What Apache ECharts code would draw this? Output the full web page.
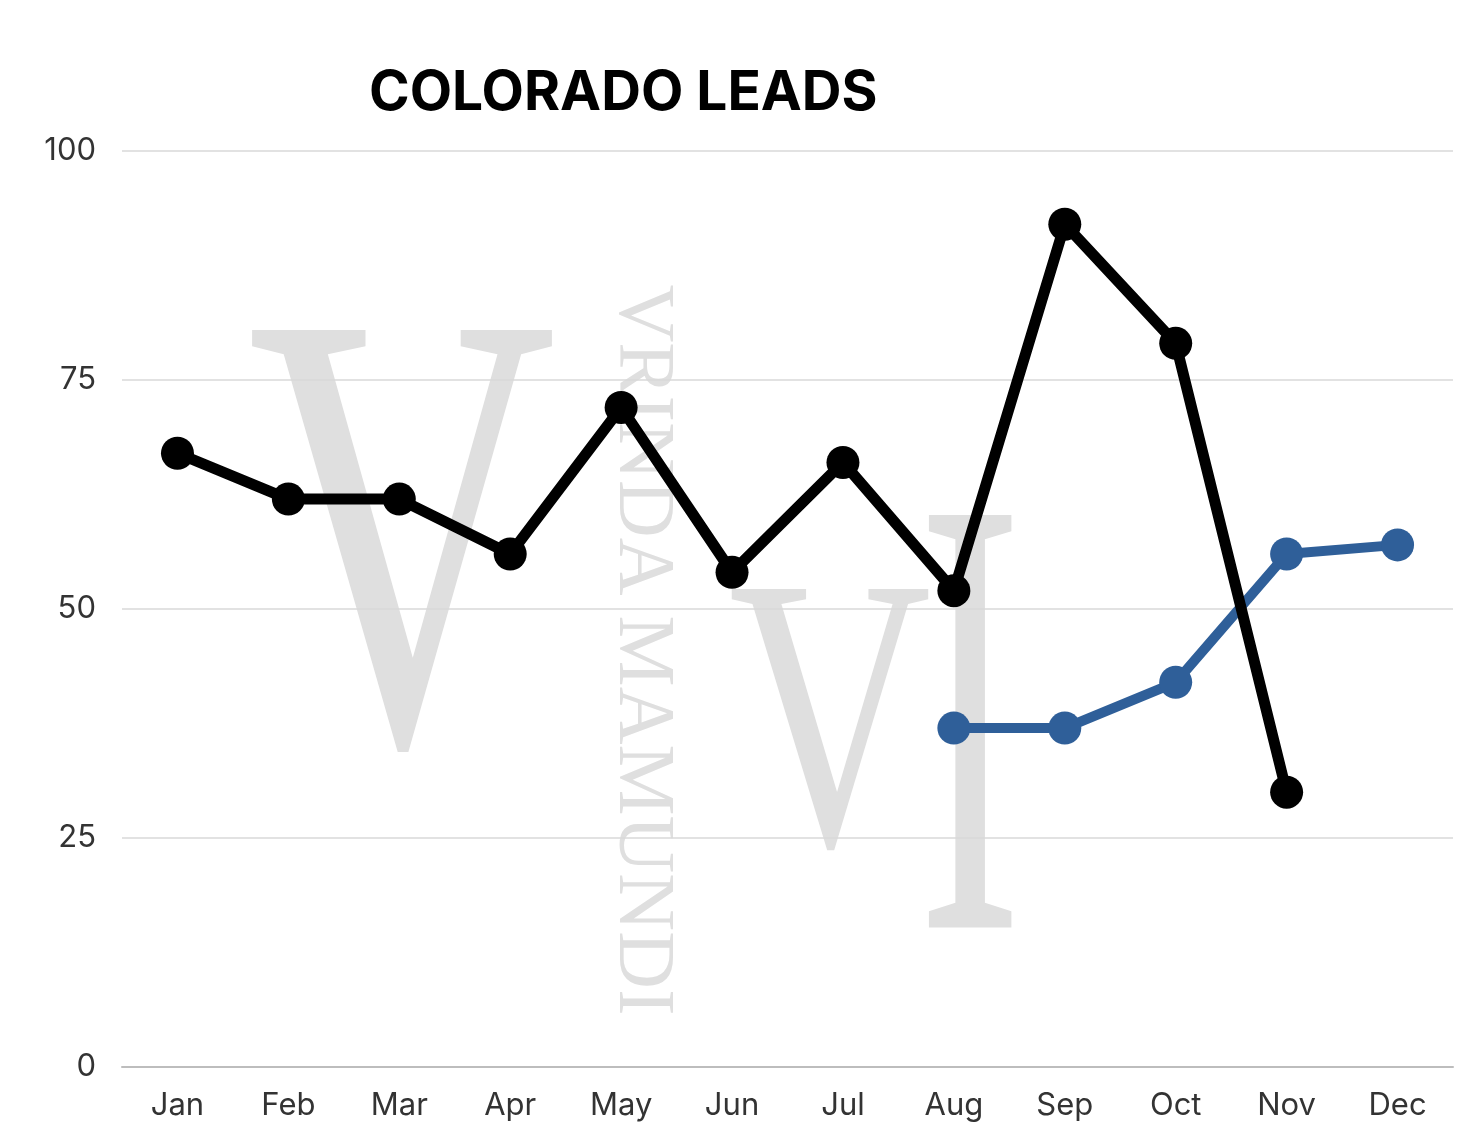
<!DOCTYPE html>
<html>
<head>
<meta charset="utf-8">
<script src="https://cdn.jsdelivr.net/npm/echarts@6/dist/echarts.min.js"></script>
<style>
html,body{margin:0;padding:0;background:#fff;}
#chart{width:1482px;height:1144px;}
</style>
</head>
<body>
<div id="chart"></div>
<script>
var categories = ['Jan','Feb','Mar','Apr','May','Jun','Jul','Aug','Sep','Oct','Nov','Dec'];
var blackSeries = [67, 62, 62, 56, 72, 54, 66, 52, 92, 79, 30, null];
var blueSeries = [null, null, null, null, null, null, null, 37, 37, 42, 56, 57];
var yTicks = [0, 25, 50, 75, 100];
var titleText = 'COLORADO LEADS';
var watermarkName = 'VRINDA MAMUNDI';

var chart = echarts.init(document.getElementById('chart'));
var wmColor = '#dfdfdf';
chart.setOption({
  backgroundColor: '#ffffff',
  animation: false,
  title: {
    text: titleText,
    left: 364,
    top: 61,
    textStyle: {fontFamily: 'Inter', fontWeight: 700, fontSize: 55, color: '#000'}
  },
  grid: {left: 122, right: 29, top: 151, bottom: 77, containLabel: false},
  graphic: [
    {type: 'text', z: -10, x: 402, y: 577, scaleX: 0.68,
      style: {text: 'V', fontFamily: 'Liberation Serif', fontSize: 630, fill: wmColor, align: 'center', verticalAlign: 'middle'}},
    {type: 'text', z: -10, x: 830, y: 742, scaleX: 0.72,
      style: {text: 'V', fontFamily: 'Liberation Serif', fontSize: 390, fill: wmColor, align: 'center', verticalAlign: 'middle'}},
    {type: 'text', z: -10, x: 970, y: 762, scaleX: 0.5,
      style: {text: 'I', fontFamily: 'Liberation Serif', fontSize: 630, fill: wmColor, align: 'center', verticalAlign: 'middle'}},
    {type: 'text', z: -10, x: 641, y: 650, rotation: -Math.PI / 2,
      style: {text: watermarkName, fontFamily: 'Liberation Serif', fontSize: 80, fill: wmColor, align: 'center', verticalAlign: 'middle'}}
  ],
  xAxis: {
    type: 'category',
    data: categories,
    boundaryGap: true,
    axisLine: {show: true, lineStyle: {color: '#bdbdbd', width: 2}},
    axisTick: {show: false},
    axisLabel: {fontFamily: 'Inter', fontSize: 31, color: '#333', margin: 23}
  },
  yAxis: {
    type: 'value',
    min: yTicks[0],
    max: yTicks[yTicks.length - 1],
    interval: 25,
    axisLine: {show: false},
    axisTick: {show: false},
    splitLine: {lineStyle: {color: '#d9d9d9', width: 1.5}},
    axisLabel: {fontFamily: 'Inter', fontSize: 31, color: '#333', margin: 26, padding: [12, 0, 0, 0]}
  },
  series: [
    {
      type: 'line', data: blackSeries, connectNulls: false,
      symbol: 'circle', symbolSize: 33,
      lineStyle: {color: '#000', width: 11},
      itemStyle: {color: '#000'},
      z: 3
    },
    {
      type: 'line', data: blueSeries, connectNulls: false,
      symbol: 'circle', symbolSize: 33,
      lineStyle: {color: '#2f5f99', width: 10},
      itemStyle: {color: '#2f5f99'},
      z: 2
    }
  ]
});
</script>
</body>
</html>
